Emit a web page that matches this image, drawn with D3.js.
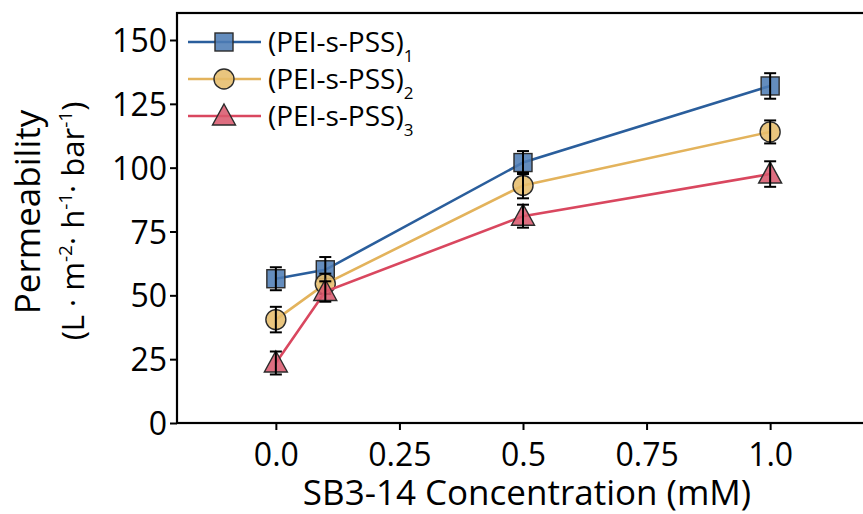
<!DOCTYPE html>
<html>
<head>
<meta charset="utf-8">
<script src="https://cdn.jsdelivr.net/npm/d3@7"></script>
<style>
  body { margin: 0; background: #fff; }
  svg text { font-family: "Open Sans", "Noto Sans", sans-serif; fill: #000; }
  .tick text { font-size: 32px; }
</style>
</head>
<body>
<svg id="chart" width="863" height="514"></svg>
<script>
// data
var concentrations = [0.0, 0.1, 0.5, 1.0];
var seriesNames = ["1", "2", "3"];
var pss1 = [56.5, 60, 102, 132];
var pss1Err = [4.5, 5, 4.5, 5];
var pss2 = [40.5, 54.5, 93, 114];
var pss2Err = [5, 4, 5, 4.5];
var pss3 = [23.5, 51.5, 81, 97.5];
var pss3Err = [4.5, 4, 4.5, 5];
var xTicks = [0, 0.25, 0.5, 0.75, 1.0];
var xTickLabels = ["0.0", "0.25", "0.5", "0.75", "1.0"];
var yTicks = [0, 25, 50, 75, 100, 125, 150];

var series = [
  { name: seriesNames[0], values: pss1, err: pss1Err, line: "#2a5e9c", fill: "#4f7db5", shape: "square" },
  { name: seriesNames[1], values: pss2, err: pss2Err, line: "#e3b35c", fill: "#e6bd6c", shape: "circle" },
  { name: seriesNames[2], values: pss3, err: pss3Err, line: "#d9475f", fill: "#da5a6e", shape: "triangle" }
];

var svg = d3.select("#chart");
var plotL = 177, plotT = 13, plotR = 869, plotB = 423;

var x = d3.scaleLinear().domain([-0.2, 1.2]).range([plotL, plotR]);
var y = d3.scaleLinear().domain([0, 150]).range([plotB, 40]);

// frame
svg.append("rect")
  .attr("x", plotL).attr("y", plotT)
  .attr("width", plotR - plotL).attr("height", plotB - plotT)
  .attr("fill", "none").attr("stroke", "#000").attr("stroke-width", 2.2);

// y axis
var yAxis = svg.append("g")
  .attr("transform", "translate(" + plotL + ",0)")
  .call(d3.axisLeft(y).tickValues(yTicks).tickSize(7).tickPadding(3));
yAxis.select(".domain").remove();
yAxis.selectAll(".tick line").attr("stroke-width", 2);
yAxis.selectAll(".tick text").attr("dy", "0.36em");

// x axis
var xAxis = svg.append("g")
  .attr("transform", "translate(0," + plotB + ")")
  .call(d3.axisBottom(x).tickValues(xTicks).tickFormat(function(d, i) { return xTickLabels[i]; })
    .tickSize(7).tickPadding(13));
xAxis.select(".domain").remove();
xAxis.selectAll(".tick line").attr("stroke-width", 2);

// axis titles
svg.append("text")
  .attr("x", 527).attr("y", 505)
  .attr("text-anchor", "middle")
  .attr("font-size", 35)
  .text("SB3-14 Concentration (mM)");

var yTitle = svg.append("g").attr("transform", "translate(40,218) rotate(-90)");
yTitle.append("text")
  .attr("x", 6)
  .attr("text-anchor", "middle")
  .attr("font-size", 35)
  .text("Permeability");
var unit = yTitle.append("text")
  .attr("x", -3)
  .attr("y", 44)
  .attr("text-anchor", "middle")
  .attr("font-size", 31);
unit.append("tspan").text("(L · m");
unit.append("tspan").attr("font-size", 19).attr("dy", -12).text("-2");
unit.append("tspan").attr("dy", 12).text("· h");
unit.append("tspan").attr("font-size", 19).attr("dy", -12).text("-1");
unit.append("tspan").attr("dy", 12).text("· bar");
unit.append("tspan").attr("font-size", 19).attr("dy", -12).text("-1");
unit.append("tspan").attr("dy", 12).text(")");

function drawMarker(g, shape, fill) {
  var mark;
  if (shape === "square") {
    mark = g.append("rect").attr("x", -9).attr("y", -9).attr("width", 18).attr("height", 18);
  } else if (shape === "circle") {
    mark = g.append("circle").attr("r", 10);
  } else {
    mark = g.append("path").attr("d", "M0,-12 L11.5,9 L-11.5,9 Z");
  }
  mark.attr("fill", fill).attr("fill-opacity", 0.88)
    .attr("stroke", "#2b2b2b").attr("stroke-width", 1.4);
}

var line = d3.line()
  .x(function(d, i) { return x(concentrations[i]); })
  .y(function(d) { return y(d); });

series.forEach(function(s) {
  var g = svg.append("g");
  g.append("path")
    .attr("d", line(s.values))
    .attr("fill", "none").attr("stroke", s.line).attr("stroke-width", 2.6);

  s.values.forEach(function(v, i) {
    var cx = x(concentrations[i]);
    var m = g.append("g").attr("transform", "translate(" + cx + "," + y(v) + ")");
    drawMarker(m, s.shape, s.fill);
    // error bar
    var eb = g.append("g").attr("stroke", "#000").attr("stroke-width", 2);
    eb.append("line").attr("x1", cx).attr("x2", cx).attr("y1", y(v - s.err[i])).attr("y2", y(v + s.err[i]));
    eb.append("line").attr("x1", cx - 6).attr("x2", cx + 6).attr("y1", y(v - s.err[i])).attr("y2", y(v - s.err[i]));
    eb.append("line").attr("x1", cx - 6).attr("x2", cx + 6).attr("y1", y(v + s.err[i])).attr("y2", y(v + s.err[i]));
  });
});

// legend
var legend = svg.append("g").attr("transform", "translate(188,42)");
series.forEach(function(s, i) {
  var row = legend.append("g").attr("transform", "translate(0," + (i * 37) + ")");
  row.append("line").attr("x1", 0).attr("x2", 73).attr("y1", 0).attr("y2", 0)
    .attr("stroke", s.line).attr("stroke-width", 2.6);
  var m = row.append("g").attr("transform", "translate(36,0)");
  drawMarker(m, s.shape, s.fill);
  var t = row.append("text").attr("x", 80).attr("y", 10).attr("font-size", 28);
  t.append("tspan").text("(PEI-s-PSS)");
  t.append("tspan").attr("font-size", 17).attr("dy", 10).text(s.name);
});
</script>
</body>
</html>
